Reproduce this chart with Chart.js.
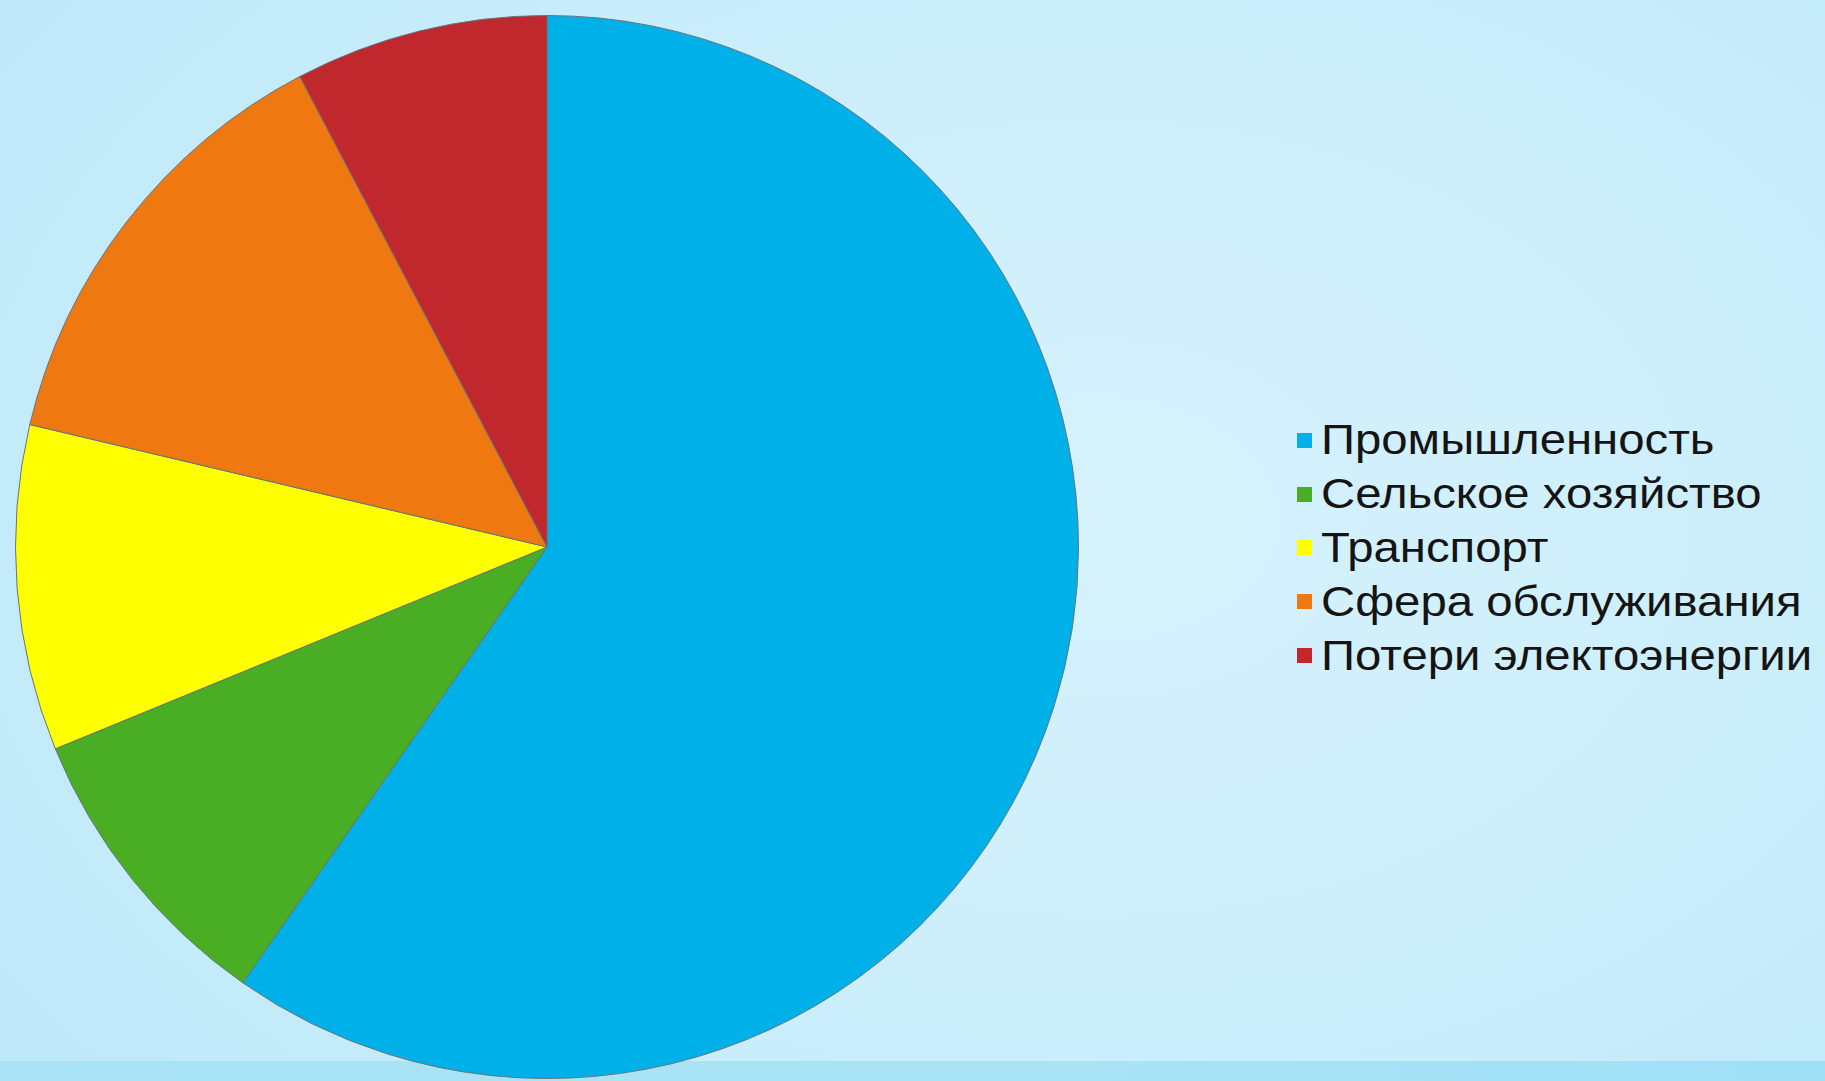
<!DOCTYPE html>
<html>
<head>
<meta charset="utf-8">
<script src="https://cdn.jsdelivr.net/npm/chart.js@4/dist/chart.umd.min.js"></script>
<style>
  html, body { margin: 0; padding: 0; width: 1825px; height: 1081px; overflow: hidden; }
  body {
    position: relative;
    background: radial-gradient(ellipse 75% 85% at 60% 48%, #d6f2fc 0%, #cbeefb 55%, #bde8f9 100%);
    font-family: "Liberation Sans", Arial, sans-serif;
  }
  #band { position: absolute; left: 0; top: 1061px; width: 1825px; height: 20px;
          background: linear-gradient(90deg, #aae3f6, #a8e3f6 60%, #9fdff6); }
  #wrap { position: absolute; left: 0; top: 0; width: 1094px; height: 1094px; }
  #legend { position: absolute; left: 1297px; top: 413px; }
  .item { display: flex; align-items: center; height: 53.8px; font-size: 43px; color: #141414; white-space: nowrap; }
  .sw { width: 15px; height: 15px; margin-right: 9px; margin-top: 1px; flex: none; }
  .tx { display: inline-block; transform: scaleX(1.1); transform-origin: left center; }
</style>
</head>
<body>
<div id="band"></div>
<div id="wrap"><canvas id="c"></canvas></div>
<div id="legend"></div>
<script>
const categories = ["Промышленность", "Сельское хозяйство", "Транспорт", "Сфера обслуживания", "Потери электоэнергии"];
const shares = [59.7, 9.1, 9.9, 13.6, 7.7];
const sliceColors = ["#00b0e8", "#4aae24", "#ffff00", "#f07810", "#c0282e"];

const legend = document.getElementById('legend');
categories.forEach((name, i) => {
  const row = document.createElement('div');
  row.className = 'item';
  const sw = document.createElement('span');
  sw.className = 'sw';
  sw.style.background = sliceColors[i];
  const tx = document.createElement('span');
  tx.className = 'tx';
  tx.textContent = name;
  row.appendChild(sw); row.appendChild(tx);
  legend.appendChild(row);
});

new Chart(document.getElementById('c'), {
  type: 'pie',
  data: {
    labels: categories,
    datasets: [{
      data: shares,
      backgroundColor: sliceColors,
      borderColor: "#66737a",
      borderWidth: 1
    }]
  },
  options: {
    responsive: true,
    maintainAspectRatio: false,
    animation: false,
    layout: { padding: 15 },
    plugins: { legend: { display: false }, tooltip: { enabled: false } }
  }
});
</script>
</body>
</html>
